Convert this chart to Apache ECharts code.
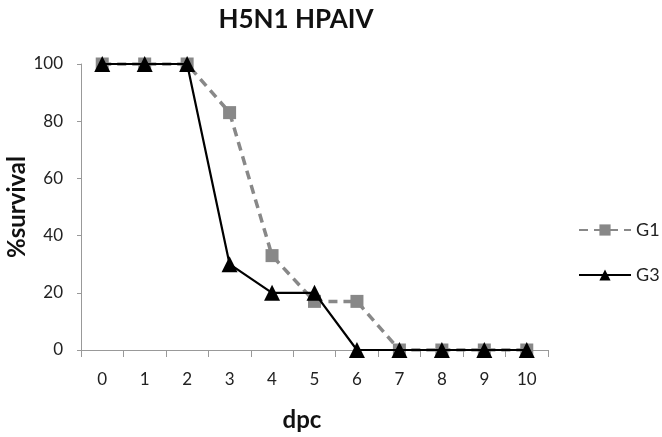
<!DOCTYPE html>
<html><head><meta charset="utf-8">
<script src="https://cdn.jsdelivr.net/npm/echarts@6/dist/echarts.min.js"></script>
<style>html,body{margin:0;padding:0;background:#fff}#c{width:662px;height:437px}</style>
</head><body><div id="c"></div>
<script>
var categories = ['0','1','2','3','4','5','6','7','8','9','10'];
var g1 = [100,100,100,83,33,17,17,0,0,0,0];
var g3 = [100,100,100,30,20,20,0,0,0,0,0];
var yTicks = [0,20,40,60,80,100];
var FONT = 'Lato, "Open Sans", sans-serif';
var chart = echarts.init(document.getElementById('c'), null, {renderer:'canvas'});
chart.setOption({
  animation:false,
  backgroundColor:'#fff',
  title:{text:'H5N1 HPAIV', left:291, textAlign:'center', top:2,
    textStyle:{fontFamily:FONT, fontWeight:'bold', fontSize:26, color:'#111'}},
  grid:{left:81, right:114, top:64, bottom:87, containLabel:false, outerBoundsMode:'none'},
  legend:{orient:'vertical', left:578, top:221, padding:0, itemWidth:52, itemHeight:14, itemGap:27,
    textStyle:{fontFamily:FONT, fontSize:18, color:'#222'},
    data:['G1','G3']},
  xAxis:{type:'category', data:categories, boundaryGap:true,
    name:'dpc', nameLocation:'middle', nameGap:58, nameMoveOverlap:false,
    nameTextStyle:{fontFamily:FONT, fontWeight:'bold', fontSize:24, color:'#111', padding:[0,25,0,0]},
    axisLine:{lineStyle:{color:'#999', width:1}},
    axisTick:{show:true, length:7, alignWithLabel:false, lineStyle:{color:'#999'}},
    axisLabel:{fontFamily:FONT, fontSize:17, color:'#222', margin:21}},
  yAxis:{type:'value', min:yTicks[0], max:yTicks[yTicks.length-1], interval:20,
    name:'%survival', nameLocation:'middle', nameGap:52, nameMoveOverlap:false,
    nameTextStyle:{fontFamily:FONT, fontWeight:'bold', fontSize:24, color:'#111'},
    axisLine:{show:true, lineStyle:{color:'#999', width:1}},
    axisTick:{show:true, length:4, lineStyle:{color:'#999'}},
    splitLine:{show:false},
    axisLabel:{fontFamily:FONT, fontSize:17, color:'#222', margin:18}},
  series:[
    {name:'G1', type:'line', data:g1, symbol:'rect', symbolSize:13,
      lineStyle:{color:'#888', width:3.5, type:[9,6]},
      itemStyle:{color:'#888'}, z:2},
    {name:'G3', type:'line', data:g3, symbol:'triangle', symbolSize:16,
      lineStyle:{color:'#000', width:2.2},
      itemStyle:{color:'#000'}, z:3}
  ]
});
</script></body></html>
